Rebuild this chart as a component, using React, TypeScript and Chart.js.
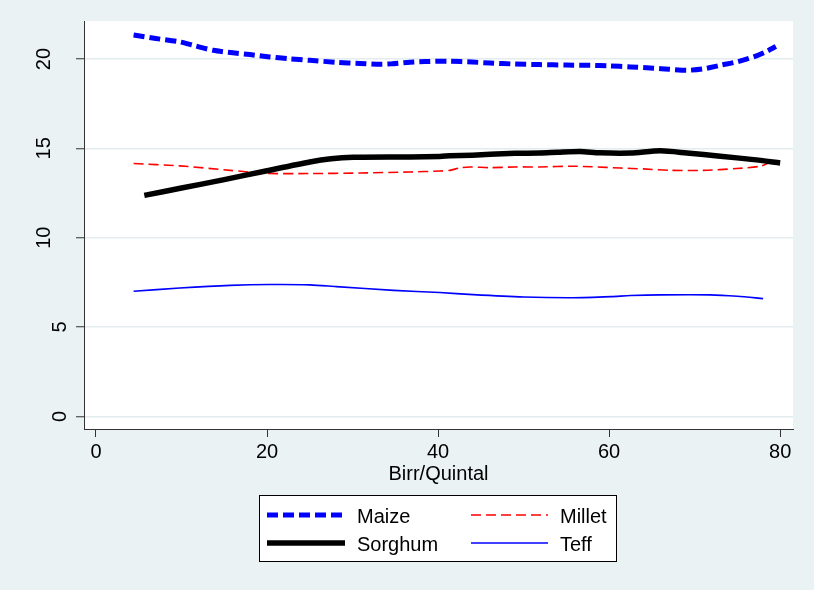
import React, { useEffect, useRef } from "react";
import { Chart, registerables } from "chart.js";

Chart.register(...registerables);

// ---- data ----
const xTickValues = [0, 20, 40, 60, 80];
const yTickValues = [0, 5, 10, 15, 20];
const xAxisTitle = "Birr/Quintal";
const seriesNames = ["Maize", "Millet", "Sorghum", "Teff"];

const maizeX = [4.4, 7, 9.8, 11.5, 13.7, 16, 18, 20.3, 22.5, 25, 28, 30.9, 32.8, 34.5, 36.7, 38.5, 40.2, 41.4, 44, 46.1, 49, 51.9, 55, 57.8, 60, 62.5, 65.2, 67, 69.1, 71, 73, 75, 76.9, 78.3, 79.5];
const maizeY = [21.35, 21.15, 20.96, 20.75, 20.49, 20.35, 20.25, 20.12, 20.02, 19.93, 19.82, 19.75, 19.71, 19.73, 19.82, 19.86, 19.88, 19.88, 19.83, 19.78, 19.72, 19.69, 19.66, 19.65, 19.62, 19.56, 19.49, 19.43, 19.37, 19.45, 19.65, 19.85, 20.12, 20.4, 20.7];

const milletX = [4.4, 9.8, 15.7, 20, 25, 30.9, 36.7, 40.2, 41.4, 42.5, 43.7, 46, 49, 51.9, 55.8, 58, 61.3, 64, 67.1, 71, 74.9, 77.7, 78.7];
const milletY = [14.15, 14.02, 13.77, 13.6, 13.59, 13.62, 13.68, 13.73, 13.77, 13.9, 13.96, 13.92, 13.96, 13.96, 14.0, 13.97, 13.9, 13.85, 13.77, 13.77, 13.87, 14.0, 14.2];

const sorghumX = [5.65, 10, 15, 20, 25, 27.5, 30.1, 36.7, 40.2, 41.4, 44, 46.1, 49, 51.9, 54, 56.6, 58.9, 62.5, 66, 69.1, 73, 76.9, 80];
const sorghumY = [12.37, 12.78, 13.25, 13.75, 14.24, 14.42, 14.5, 14.52, 14.55, 14.58, 14.62, 14.67, 14.72, 14.74, 14.78, 14.82, 14.75, 14.74, 14.86, 14.74, 14.56, 14.37, 14.18];

const teffX = [4.4, 9.8, 15.7, 20.35, 25, 28.1, 34.8, 40.2, 44.1, 50, 55.8, 60.2, 62.5, 66, 71.8, 75, 78];
const teffY = [7.0, 7.18, 7.33, 7.38, 7.36, 7.26, 7.05, 6.93, 6.81, 6.68, 6.64, 6.7, 6.76, 6.8, 6.8, 6.72, 6.59];

// ---- style ----
const FONT = '"Liberation Sans", Arial, sans-serif';
const BG = "#EAF2F3";

const pts = (xs: number[], ys: number[]) => xs.map((x, i) => ({ x, y: ys[i] }));

export default function App() {
  const ref = useRef<HTMLCanvasElement>(null);

  useEffect(() => {
    const canvas = ref.current!;
    const decor = {
      id: "decor",
      beforeDraw(chart: any) {
        const { ctx, chartArea } = chart;
        ctx.save();
        ctx.fillStyle = BG;
        ctx.fillRect(0, 0, chart.width, chart.height);
        ctx.fillStyle = "#FFFFFF";
        ctx.fillRect(chartArea.left, chartArea.top, chartArea.right - chartArea.left, chartArea.bottom - chartArea.top);
        ctx.restore();
      },
      afterDraw(chart: any) {
        const { ctx, chartArea } = chart;
        const ys = chart.scales.y;
        ctx.save();
        ctx.fillStyle = "#000";
        ctx.font = `20px ${FONT}`;
        // rotated y tick labels
        yTickValues.forEach((v) => {
          const t = String(v);
          const py = ys.getPixelForValue(v);
          const cx = t.length > 1 ? 44 : 60;
          ctx.save();
          ctx.translate(cx, py);
          ctx.rotate(-Math.PI / 2);
          ctx.textAlign = "center";
          ctx.textBaseline = "middle";
          ctx.fillText(t, 0, 0);
          ctx.restore();
        });
        // x axis title
        ctx.textAlign = "center";
        ctx.textBaseline = "alphabetic";
        ctx.fillText(xAxisTitle, (chartArea.left + chartArea.right) / 2, 480);
        // legend
        ctx.fillStyle = "#FFFFFF";
        ctx.fillRect(259.5, 495.5, 357, 66);
        ctx.strokeStyle = "#000";
        ctx.lineWidth = 1;
        ctx.strokeRect(259.5, 495.5, 357, 66);
        const sx0 = [267, 471];
        const sx1 = [345, 548];
        const tx = [357, 560];
        const ly = [515, 543];
        const by = [523, 551];
        chart.data.datasets.forEach((ds: any, i: number) => {
          const col = i % 2;
          const row = Math.floor(i / 2);
          ctx.save();
          ctx.strokeStyle = ds.borderColor;
          ctx.lineWidth = ds.borderWidth;
          ctx.setLineDash(ds.borderDash || []);
          ctx.beginPath();
          ctx.moveTo(sx0[col], ly[row]);
          ctx.lineTo(sx1[col], ly[row]);
          ctx.stroke();
          ctx.restore();
          ctx.fillStyle = "#000";
          ctx.textAlign = "left";
          ctx.textBaseline = "alphabetic";
          ctx.fillText(ds.label, tx[col], by[row]);
        });
        ctx.restore();
      },
    };

    const chart = new Chart(canvas, {
      type: "line",
      data: {
        datasets: [
          { label: seriesNames[0], data: pts(maizeX, maizeY), borderColor: "#0000FF", borderWidth: 5, borderDash: [11, 5], order: 1 },
          { label: seriesNames[1], data: pts(milletX, milletY), borderColor: "#FF0000", borderWidth: 1.6, borderDash: [10, 5], order: 2 },
          { label: seriesNames[2], data: pts(sorghumX, sorghumY), borderColor: "#000000", borderWidth: 5.5, order: 0 },
          { label: seriesNames[3], data: pts(teffX, teffY), borderColor: "#0000FF", borderWidth: 1.6, order: 3 },
        ],
      },
      options: {
        animation: false,
        responsive: false,
        devicePixelRatio: 1,
        elements: { point: { radius: 0 }, line: { tension: 0.25, fill: false } },
        layout: { padding: { top: 21, right: 21, left: 0, bottom: 126 } },
        plugins: { legend: { display: false }, tooltip: { enabled: false }, title: { display: false } },
        scales: {
          x: {
            type: "linear",
            min: -1.4,
            max: 81.5,
            afterBuildTicks: (s: any) => { s.ticks = xTickValues.map((v) => ({ value: v })); },
            afterFit: (s: any) => { s.height = 35; },
            ticks: { color: "#000", font: { size: 20, family: FONT }, padding: 3, maxRotation: 0, autoSkip: false },
            grid: { drawOnChartArea: false, drawTicks: true, tickLength: 8, tickColor: "#333", tickWidth: 1 },
            border: { display: true, color: "#333", width: 1 },
          },
          y: {
            type: "linear",
            min: -0.71,
            max: 22.13,
            afterBuildTicks: (s: any) => { s.ticks = yTickValues.map((v) => ({ value: v })); },
            afterFit: (s: any) => { s.width = 84; },
            ticks: { display: false },
            grid: { drawOnChartArea: true, color: "#E3ECEE", lineWidth: 1.5, drawTicks: true, tickLength: 8, tickColor: "#333", tickWidth: 1 },
            border: { display: true, color: "#333", width: 1 },
          },
        },
      },
      plugins: [decor],
    } as any);
    return () => chart.destroy();
  }, []);

  return (
    <div style={{ position: "fixed", left: 0, top: 0, width: 814, height: 590, background: BG }}>
      <canvas ref={ref} width={814} height={590} style={{ width: 814, height: 590, display: "block" }} />
    </div>
  );
}
